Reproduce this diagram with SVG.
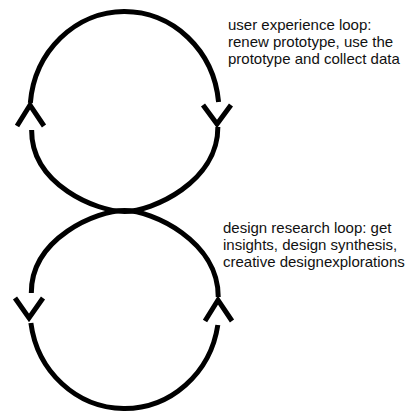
<svg xmlns="http://www.w3.org/2000/svg" width="407" height="412" viewBox="0 0 407 412">
  <style>
    .loop { fill: none; stroke: #000; stroke-width: 5; stroke-linecap: butt; }
    .head { fill: none; stroke: #000; stroke-width: 5; stroke-linecap: butt; stroke-linejoin: miter; }
    .label { font-family: "Liberation Sans", Arial, sans-serif; font-size: 15px; fill: #111; }
  </style>
  <rect width="407" height="412" fill="#fff"/>

  <g id="connectors">
    <!-- upper loop: top half is an elliptic arc, bottom half narrows into the crossing -->
    <path class="loop" d="M30.34,103 A94.5,100 0 0 1 218.57,102"/>
    <path class="loop" d="M217.86,127 C218.2,182 152,211.5 124.5,211.5 C97,211.5 31.3,185 31.63,130"/>
    <polyline class="head" points="17,126 30,105 44,126"/>
    <polyline class="head" points="203,105 217,124 231,105"/>

    <!-- lower loop: top half narrows out of the crossing, bottom half is an elliptic arc -->
    <path class="loop" d="M31.32,293 C31,238 97,210.5 124.5,210.5 C152,210.5 218.6,241 218.24,297"/>
    <path class="loop" d="M217.83,325 A94.5,99 0 0 1 30.88,323"/>
    <polyline class="head" points="15,298 29,318 43,298"/>
    <polyline class="head" points="205,321 218,300 232,321"/>
  </g>

  <g id="user-experience-loop">
    <text class="label" x="228" y="30">user experience loop:</text>
    <text class="label" x="228" y="47">renew prototype, use the</text>
    <text class="label" x="228" y="64">prototype and collect data</text>
  </g>

  <g id="design-research-loop">
    <text class="label" x="223" y="233">design research loop: get</text>
    <text class="label" x="223" y="250">insights, design synthesis,</text>
    <text class="label" x="223" y="267">creative designexplorations</text>
  </g>
</svg>
